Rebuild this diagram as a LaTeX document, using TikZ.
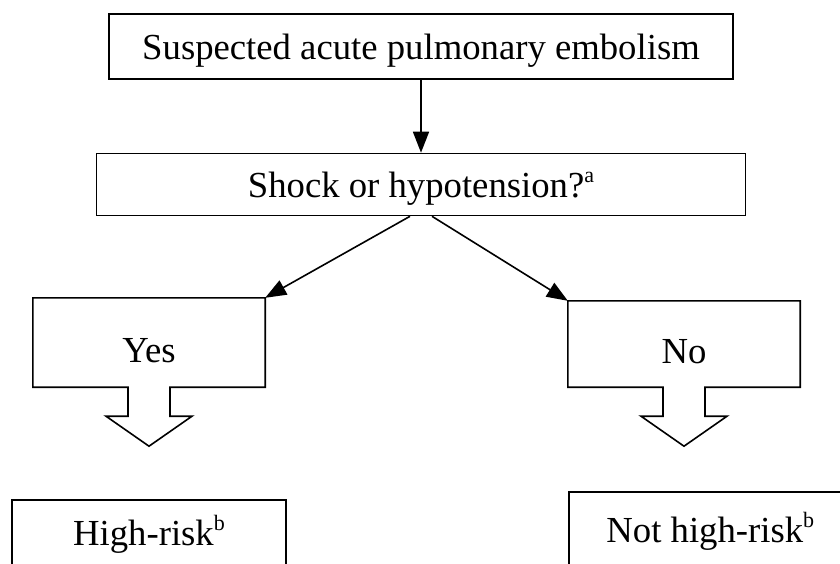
\documentclass[tikz,border=0pt]{standalone}
\usepackage{fontspec}
\setmainfont{Liberation Serif}
\usetikzlibrary{arrows.meta}

% Raised note letter
\newcommand{\supnote}[1]{\raisebox{0.42em}{\fontsize{22}{22}\selectfont #1}}

\begin{document}
\begin{tikzpicture}[x=1pt, y=-1pt,
    every node/.style={font=\fontsize{36.7}{44}\selectfont},
    box/.style={draw, line width=1.6pt, inner sep=0pt, text height=28pt, text depth=2pt},
    choice/.style={inner sep=0pt, minimum width=232pt, text height=39pt, text depth=0pt},
    outline/.style={line width=1.6pt, line join=miter},
    flow/.style={line width=1.6pt, -{Triangle[length=21pt,width=16pt]}}]

    % Fix the page to the reference size
    \useasboundingbox (0,0) rectangle (840,564);
    \clip (0,0) rectangle (840,564);

    % Define the block arrow sizes
    \def\stemhalf{21}  % Half width of the stem
    \def\stemlen{29}   % Length of the stem
    \def\headover{22}  % Overhang of the head
    \def\headlen{30}   % Length of the head

    % Question boxes
    \node[box, minimum width=624pt, minimum height=65pt] (suspect) at (421,46.5) {Suspected acute pulmonary embolism};
    \node[box, minimum width=649pt, minimum height=62pt] (shock) at (421,184.5) {Shock or hypotension?\supnote{a}};

    % Answer boxes
    \node[choice, minimum height=89pt] (yes) at (149,342.5) {Yes};
    \node[choice, minimum height=86pt] (no) at (684,344) {No};

    % Outline answers with a block arrow below
    \foreach \c in {yes, no} {
        \draw[outline] (\c.south west) |- (\c.north east) -- (\c.south east)
            -- ([xshift=\stemhalf pt]\c.south) -- ++(0,\stemlen) -- ++(\headover,0)
            -- ++(-\stemhalf-\headover,\headlen) -- ++(-\stemhalf-\headover,-\headlen)
            -- ++(\headover,0) -- ++(0,-\stemlen) -- cycle;
    }

    % Risk boxes, cut by the page edge
    \node[box, anchor=north, minimum width=274pt, inner ysep=19pt, text height=27pt, text depth=60pt] (high) at (149,499) {High-risk\supnote{b}};
    \node[box, anchor=north west, minimum width=283pt, inner ysep=24pt, text height=27pt, text depth=60pt] (nothigh) at (568,491) {Not high-risk\supnote{b}};

    % Connectors
    \draw[flow] (suspect.south) -- (shock.north);
    \draw[flow] ([xshift=-11pt]shock.south) -- (yes.north east);
    \draw[flow] ([xshift=11pt]shock.south) -- (no.north west);

\end{tikzpicture}
\end{document}
